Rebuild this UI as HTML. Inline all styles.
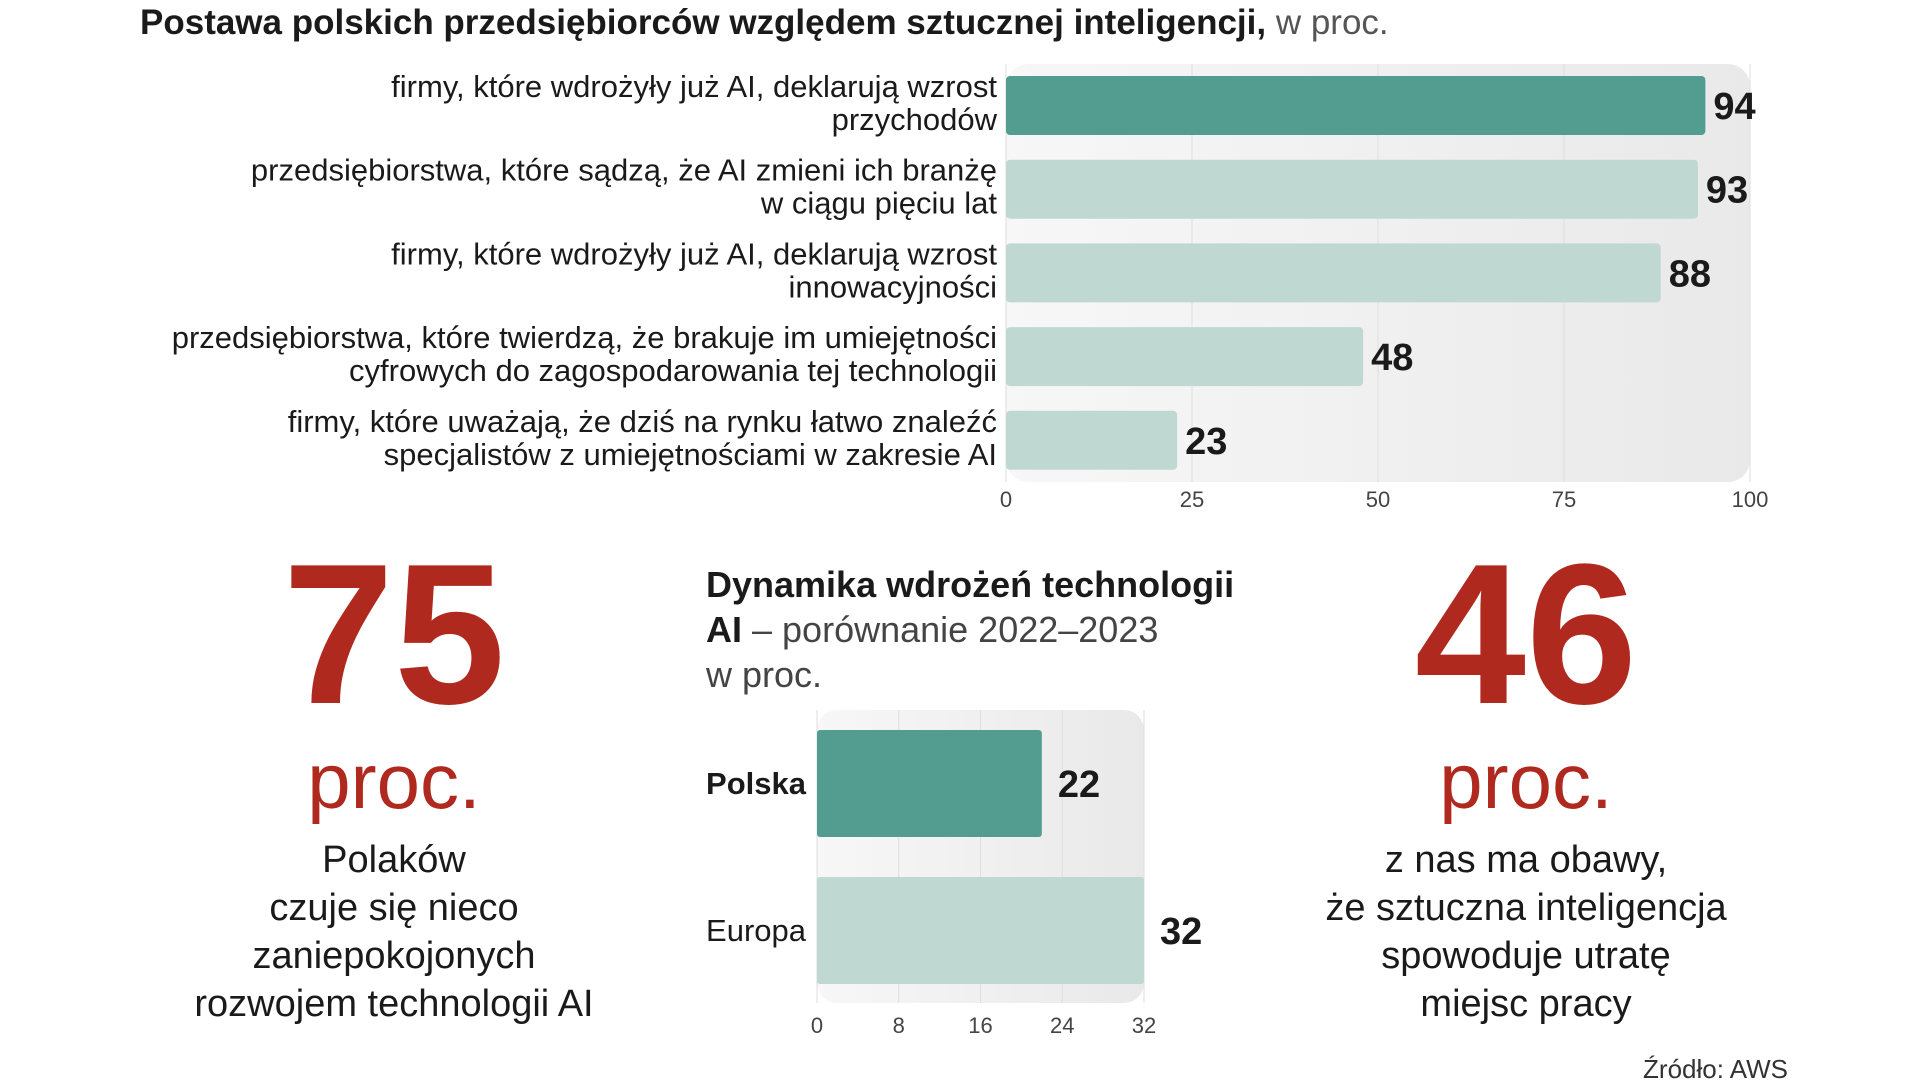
<!DOCTYPE html>
<html><head><meta charset="utf-8"><style>
body{margin:0;width:1920px;height:1080px;background:#fff;overflow:hidden;font-family:"Liberation Sans Narrow","Liberation Sans",sans-serif;color:#1a1a1a}
.abs{position:absolute}
</style></head><body>
<div class="abs" style="left:140px;top:3px;font-size:35px;white-space:nowrap"><b>Postawa polskich przedsiębiorców względem sztucznej inteligencji,</b> <span style="color:#555">w proc.</span></div>
<svg id="main" class="abs" style="left:0;top:0" width="1920" height="1080"></svg>

<div class="abs" style="left:194px;width:400px;top:530px;text-align:center;color:#b0291f;font-weight:bold;font-size:200px;line-height:210px">75</div>
<div class="abs" style="left:194px;width:400px;top:738px;text-align:center;color:#b0291f;font-size:78px;line-height:86px">proc.</div>
<div class="abs" style="left:144px;width:500px;top:836px;text-align:center;font-size:38px;line-height:48px">Polaków<br>czuje się nieco<br>zaniepokojonych<br>rozwojem technologii AI</div>

<div class="abs" style="left:1326px;width:400px;top:530px;text-align:center;color:#b0291f;font-weight:bold;font-size:200px;line-height:210px">46</div>
<div class="abs" style="left:1326px;width:400px;top:738px;text-align:center;color:#b0291f;font-size:78px;line-height:86px">proc.</div>
<div class="abs" style="left:1276px;width:500px;top:836px;text-align:center;font-size:38px;line-height:48px">z nas ma obawy,<br>że sztuczna inteligencja<br>spowoduje utratę<br>miejsc pracy</div>

<div class="abs" style="left:706px;top:562px;font-size:36px;line-height:45px;white-space:nowrap"><b>Dynamika wdrożeń technologii<br>AI</b> <span style="color:#444">– porównanie 2022–2023<br>w proc.</span></div>
<div class="abs" style="right:132px;top:1054px;font-size:26px;color:#333">Źródło: AWS</div>

<script>
const cats=["firmy, które wdrożyły już AI, deklarują wzrost|przychodów","przedsiębiorstwa, które sądzą, że AI zmieni ich branżę|w ciągu pięciu lat","firmy, które wdrożyły już AI, deklarują wzrost|innowacyjności","przedsiębiorstwa, które twierdzą, że brakuje im umiejętności|cyfrowych do zagospodarowania tej technologii","firmy, które uważają, że dziś na rynku łatwo znaleźć|specjalistów z umiejętnościami w zakresie AI"];
const vals=[94,93,88,48,23];
const ticks=[0,25,50,75,100];
const cats2=["Polska","Europa"];
const vals2=[22,32];
const ticks2=[0,8,16,24,32];
const NS="http://www.w3.org/2000/svg";
const svg=document.getElementById('main');
function el(t,a,txt){const e=document.createElementNS(NS,t);for(const k in a)e.setAttribute(k,a[k]);if(txt!=null)e.textContent=txt;svg.appendChild(e);return e;}
const F='"Liberation Sans Narrow","Liberation Sans",sans-serif';
svg.innerHTML='<defs><linearGradient id="g" x1="0" x2="1"><stop offset="0" stop-color="#f7f7f7"/><stop offset="1" stop-color="#e9e9e9"/></linearGradient></defs>';
const x0=1006,x1=1750,xs=v=>x0+(x1-x0)*v/100;
let p=el('rect',{x:x0,y:64,width:x1-x0,height:418,rx:22,fill:'url(#g)'});

ticks.forEach(t=>{let l=el('line',{x1:xs(t),x2:xs(t),y1:64,y2:482,stroke:'#dedede','stroke-width':1});
let tx=el('text',{x:xs(t),y:507,'text-anchor':'middle','font-size':22,fill:'#444','font-family':F},t);});
vals.forEach((v,i)=>{const y=76+i*83.7;
let r=el('rect',{x:x0,y:y,width:xs(v)-x0,height:59,rx:4,fill:i==0?'#529d90':'#bfd9d2'});
let t=el('text',{x:xs(v)+8,y:y+43,'font-size':38,'font-weight':'bold',fill:'#1a1a1a','font-family':F},v);
cats[i].split('|').forEach((s,j)=>{let c=el('text',{x:997,y:y+21+j*33,'text-anchor':'end','font-size':31,fill:'#1a1a1a','font-family':F},s);});
});
const sx0=817,sx1=1144,sxs=v=>sx0+(sx1-sx0)*v/32;
p=el('rect',{x:sx0,y:710,width:sx1-sx0,height:293,rx:20,fill:'url(#g)'});
ticks2.forEach(t=>{let l=el('line',{x1:sxs(t),x2:sxs(t),y1:710,y2:1003,stroke:'#dedede','stroke-width':1});
let tx=el('text',{x:sxs(t),y:1033,'text-anchor':'middle','font-size':22,fill:'#444','font-family':F},t);});
vals2.forEach((v,i)=>{const y=730+i*147;
let r=el('rect',{x:sx0,y:y,width:sxs(v)-sx0,height:107,rx:3,fill:i==0?'#529d90':'#bfd9d2'});
let t=el('text',{x:sxs(v)+16,y:y+67,'font-size':38,'font-weight':'bold',fill:'#1a1a1a','font-family':F},v);
let c=el('text',{x:806,y:y+64,'text-anchor':'end','font-size':31,'font-weight':i==0?'bold':'normal',fill:'#1a1a1a','font-family':F},cats2[i]);
});
</script>
</body></html>
